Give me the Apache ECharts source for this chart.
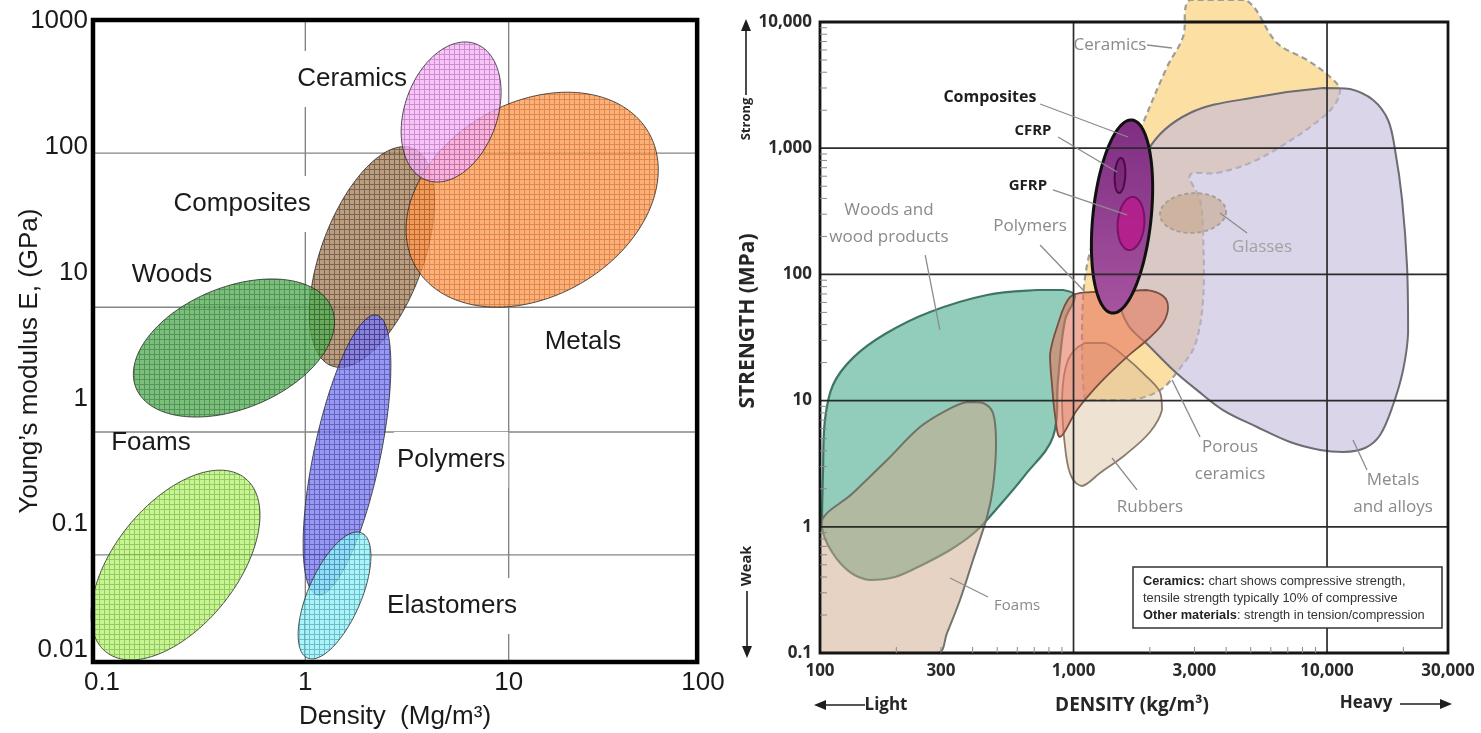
<!DOCTYPE html>
<html>
<head>
<meta charset="utf-8">
<title>Material property charts</title>
<script src="https://cdn.jsdelivr.net/npm/echarts@6.0.0/dist/echarts.min.js"></script>
<style>
  html, body { margin: 0; padding: 0; background: #ffffff; }
  #chart { width: 1481px; height: 733px; }
</style>
</head>
<body>
<div id="chart"></div>
<script>
// ================= Left chart: Young's modulus vs density =================
const modulusFamilies = ['Composites', 'Woods', 'Metals', 'Ceramics', 'Polymers', 'Elastomers', 'Foams'];
// ends of each bubble's long axis, [density Mg/m3, modulus GPa]
const modulusAxisFrom = [[1.35, 1.81], [0.147, 1.21], [3.49, 11.1], [3.96, 54.2], [1.147, 0.0274], [1.025, 0.00863], [0.1045, 0.00966]];
const modulusAxisTo   = [[3.35, 97.7], [1.35, 5.23], [48.8, 130], [6.86, 660], [2.24, 4.59], [1.89, 0.0853], [0.506, 0.232]];
// short axis as a fraction of the long axis
const modulusWidth = [0.44, 0.575, 0.72, 0.64, 0.232, 0.39, 0.55];

const densityTicksMg = [0.1, 1, 10, 100];
const modulusTicks = [0.01, 0.1, 1, 10, 100, 1000];
const modulusGridDensity = [1, 10];
const modulusGridLevels = [89, 5.3, 0.54, 0.057];
const modulusFrameDensity = [0.0903, 84.5];
const modulusFrameLevels = [0.00803, 1018];

const modulusLabels = ['Ceramics', 'Composites', 'Woods', 'Metals', 'Foams', 'Polymers', 'Elastomers'];
const modulusLabelAt = [[1.70, 346], [0.489, 35.1], [0.221, 9.57], [23.2, 2.81], [0.174, 0.442], [5.21, 0.324], [5.27, 0.0224]];
const modulusLabelBoxed = ['Ceramics', 'Composites', 'Polymers', 'Elastomers'];

// ================= Right chart: strength vs density =================
const densityTicksKg = [100, 300, 1000, 3000, 10000, 30000];
const strengthTicks = [0.1, 1, 10, 100, 1000, 10000];
const strengthGridDensity = [1000, 10000];
const strengthGridLevels = [1, 10, 100, 1000];
const strengthFrameDensity = [100, 30000];
const strengthFrameLevels = [0.1, 10000];
const strengthMinorLevels = [0.2, 0.3, 0.4, 0.5, 0.6, 0.7, 0.8, 0.9, 2, 3, 4, 5, 6, 7, 8, 9, 20, 30, 40, 50, 60, 70, 80, 90,
  200, 300, 400, 500, 600, 700, 800, 900, 2000, 3000, 4000, 5000, 6000, 7000, 8000, 9000];
const densityMinorKg = [200, 300, 400, 500, 600, 700, 800, 900, 2000, 3000, 4000, 5000, 6000, 7000, 8000, 9000, 20000];

// region outlines, [density kg/m3, strength MPa]
const ceramicsOutline = [[1110, 10.1], [1080, 36.3], [1141, 130], [1393, 389], [1830, 1394], [2338, 4398], [2704, 7605],
  [2880, 15000], [4748, 15000], [6351, 6818], [8340, 5000], [10280, 3665], [11250, 2892], [10560, 2121], [8569, 1472],
  [6526, 1022], [4970, 763], [3682, 636], [2880, 613], [3155, 389], [3242, 213], [3242, 62.7], [3015, 27.6],
  [2632, 18.1], [2194, 12.1], [1671, 10.1]];
const metalsOutline = [[1970, 968], [2880, 1900], [5300, 2545], [9640, 3000], [12320, 2945], [15190, 2410], [17400, 1673],
  [18550, 967], [19770, 389], [20690, 114], [20880, 34.3], [19950, 17.5], [18210, 9.23], [16190, 5.34], [14120, 4.21],
  [11570, 3.91], [9385, 4.06], [7145, 4.70], [5296, 6.18], [3887, 8.42], [3070, 12.1], [2515, 16.9], [1968, 27.6],
  [1641, 39.7], [1526, 62.7], [1671, 156], [1830, 389]];
const woodsOutline = [[101.8, 0.996], [111.5, 0.631], [131.3, 0.438], [157.5, 0.379], [197.6, 0.400], [248, 0.489],
  [325.7, 0.655], [408.8, 0.910], [512.9, 1.49], [643.8, 2.57], [830, 5.15], [868.7, 14.6], [925.6, 43.5], [1014, 67.4],
  [908.9, 75.2], [717.8, 75.2], [455.9, 68.7], [271.6, 50.4], [180.5, 33.7], [134.9, 21.8], [112.5, 13.3], [104.6, 7.02],
  [102.8, 2.82]];
const foamsOutline = [[100, 1.03], [134.9, 1.85], [183.8, 3.38], [248, 6.18], [316.9, 8.42], [380.1, 9.75], [439.5, 9.57],
  [481.4, 7.97], [494.7, 4.61], [481.4, 2.07], [455.9, 1.20], [401.4, 0.546], [356.6, 0.263], [316.9, 0.144],
  [292.1, 0.1], [100, 0.1]];
const rubbersOutline = [[901, 10.1], [951.3, 21.0], [1110, 28.6], [1332, 28.6], [1597, 22.2], [1915, 15.95], [2194, 11.7],
  [2234, 8.42], [2003, 5.64], [1597, 3.71], [1272, 2.67], [1080, 2.105], [986.5, 2.436], [934, 3.71]];
const polymersOutline = [[968.7, 66.2], [860.9, 38.3], [807.7, 23.0], [822.5, 13.3], [845.3, 7.69], [884.5, 5.15],
  [1032, 8.42], [1272, 13.8], [1626, 22.2], [1950, 30.2], [2255, 41.2], [2360, 55.2], [2255, 67.4], [1950, 75.2],
  [1526, 72.5], [1162, 72.5]];
const strengthRegions = ['Ceramics', 'Metals and alloys', 'Woods and wood products', 'Foams', 'Rubbers', 'Polymers'];
const strengthOutlines = [ceramicsOutline, metalsOutline, woodsOutline, foamsOutline, rubbersOutline, polymersOutline];

// oval families: ends of the long axis, [density kg/m3, strength MPa]
const strengthOvals = ['Glasses', 'Composites', 'CFRP', 'GFRP'];
const strengthOvalFrom = [[2194, 295.6], [1419, 49.4], [1512, 442], [1655, 156]];
const strengthOvalTo   = [[3996, 318], [1701, 1673], [1539, 836], [1717, 411]];
const strengthOvalWidth = [0.6, 0.30, 0.3, 0.5];

const materialNotes = ['Ceramics', 'Composites', 'CFRP', 'GFRP', 'Woods and\nwood products', 'Polymers', 'Glasses',
  'Porous\nceramics', 'Rubbers', 'Metals\nand alloys', 'Foams'];
const materialNoteAt = [[1393, 6574], [468, 2545], [692, 1369], [661, 502], [187, 251], [674, 242], [5540, 165],
  [4144, 3.32], [2003, 1.435], [18210, 1.82], [599, 0.236]];
const materialLeaders = [[[1950, 6574], [2447, 6223]], [[738, 2240], [1641, 1227]], [[869, 1227], [1485, 648]],
  [[830, 467], [1626, 296]], [[260, 142], [297, 36.3]], [[738, 171], [1110, 72.5]], [[3784, 307], [4835, 213]],
  [[3155, 5.15], [2447, 14.6]], [[1780, 1.96], [1419, 3.51]], [[14380, 2.82], [12660, 4.87]], [[460, 0.278], [326, 0.393]]];

// ================= styling =================
const FONT_L = '"Liberation Sans", Arial, sans-serif';
const FONT_R = '"Open Sans", "Liberation Sans", sans-serif';

const hatchColors = [['#a9825c', '#55391f'], ['#55ae55', '#26752c'], ['#f99c55', '#d9651a'], ['#f7b4f7', '#bb6fc0'],
  ['#7b7bf2', '#3838aa'], ['#93f1f7', '#47a9b9'], ['#b7f272', '#78b83c']];

function hatch(base, line) {
  const c = document.createElement('canvas');
  c.width = 5; c.height = 5;
  const g = c.getContext('2d');
  g.fillStyle = base; g.fillRect(0, 0, 5, 5);
  g.fillStyle = line; g.fillRect(4, 0, 1, 5); g.fillRect(0, 4, 5, 1);
  return c;
}
const hatches = hatchColors.map(c => hatch(c[0], c[1]));

const regionStyles = [
  { fill: '#fcdfa2', stroke: '#9d9d9d', lineWidth: 2.2, lineDash: [6, 4] },
  { fill: 'rgba(193,185,217,0.6)', stroke: '#6c6c72', lineWidth: 2 },
  { fill: 'rgba(137,200,180,0.92)', stroke: '#3f7566', lineWidth: 2.2 },
  { fill: 'rgba(207,168,136,0.5)', stroke: '#6f7368', lineWidth: 2 },
  { fill: 'rgba(215,185,150,0.42)', stroke: '#8a7c6a', lineWidth: 1.8 },
  { fill: 'rgba(228,120,95,0.6)', stroke: '#7a4f40', lineWidth: 1.8 }
];
const ovalStyles = [
  { fill: 'rgba(196,164,132,0.55)', stroke: '#a39d96', lineWidth: 1.8, lineDash: [4, 3] },
  { fill: { type: 'linear', x: 0, y: 0, x2: 0, y2: 1, colorStops: [{ offset: 0, color: '#7e2d82' }, { offset: 1, color: '#a6549f' }] },
    stroke: '#111111', lineWidth: 3 },
  { fill: 'rgba(110,25,105,0.45)', stroke: '#4a0b48', lineWidth: 2 },
  { fill: 'rgba(180,30,140,0.92)', stroke: '#7c0f68', lineWidth: 2 }
];

// ================= helpers =================
function ovalOutline(p1, p2, ratio) {
  const cx = (p1[0] + p2[0]) / 2, cy = (p1[1] + p2[1]) / 2;
  const ux = (p2[0] - p1[0]) / 2, uy = (p2[1] - p1[1]) / 2;
  const vx = -uy * ratio, vy = ux * ratio;
  const pts = [];
  for (let k = 0; k < 120; k++) {
    const t = k / 120 * Math.PI * 2;
    pts.push([cx + ux * Math.cos(t) + vx * Math.sin(t), cy + uy * Math.cos(t) + vy * Math.sin(t)]);
  }
  return pts;
}
function bounds(pts) {
  const lo = [Infinity, Infinity], hi = [-Infinity, -Infinity];
  pts.forEach(p => { lo[0] = Math.min(lo[0], p[0]); lo[1] = Math.min(lo[1], p[1]); hi[0] = Math.max(hi[0], p[0]); hi[1] = Math.max(hi[1], p[1]); });
  return [lo, hi];
}
function numText(v) { return String(+(+v).toPrecision(6)); }
function commaText(v) {
  const n = +(+v).toPrecision(6);
  return n >= 1000 ? n.toLocaleString('en-US') : String(n);
}
function onTicks(list, fmt) {
  return v => list.some(t => Math.abs(Math.log10(t) - Math.log10(v)) < 1e-6) ? fmt(v) : '';
}
function segmentSeries(axis, segs, z, style) {
  return {
    type: 'custom', xAxisIndex: axis, yAxisIndex: axis, z: z, silent: true,
    dimensions: ['x1', 'y1', 'x2', 'y2'],
    encode: { x: [0, 2], y: [1, 3] },
    data: segs.map(s => [s[0][0], s[0][1], s[1][0], s[1][1]]),
    renderItem: (params, api) => {
      const a = api.coord([api.value(0), api.value(1)]);
      const b = api.coord([api.value(2), api.value(3)]);
      return { type: 'line', shape: { x1: a[0], y1: a[1], x2: b[0], y2: b[1] }, style: Object.assign({}, style) };
    }
  };
}
function frameSeries(axis, xs, ys, z, style) {
  return {
    type: 'custom', xAxisIndex: axis, yAxisIndex: axis, z: z, silent: true,
    data: [[xs[0], ys[0]]],
    renderItem: (params, api) => {
      const a = api.coord([xs[0], ys[1]]);
      const b = api.coord([xs[1], ys[0]]);
      return { type: 'rect', shape: { x: a[0], y: a[1], width: b[0] - a[0], height: b[1] - a[1] },
        style: Object.assign({ fill: 'none' }, style) };
    }
  };
}
function arrow(x1, y1, x2, y2) {
  const ang = Math.atan2(y2 - y1, x2 - x1), L = 12, W = 5;
  const bx = x2 - L * Math.cos(ang), by = y2 - L * Math.sin(ang);
  return [
    { type: 'line', z: 10, shape: { x1: x1, y1: y1, x2: bx, y2: by }, style: { stroke: '#1e1e1e', lineWidth: 1.6 } },
    { type: 'polygon', z: 10, shape: { points: [[x2, y2], [bx - W * Math.sin(ang), by + W * Math.cos(ang)], [bx + W * Math.sin(ang), by - W * Math.cos(ang)]] },
      style: { fill: '#1e1e1e' } }
  ];
}

// gridline segments
const modulusGridSegs = modulusGridDensity.map(x => [[x, modulusFrameLevels[0]], [x, modulusFrameLevels[1]]])
  .concat(modulusGridLevels.map(y => [[modulusFrameDensity[0], y], [modulusFrameDensity[1], y]]));
const strengthGridSegs = strengthGridDensity.map(x => [[x, strengthFrameLevels[0]], [x, strengthFrameLevels[1]]])
  .concat(strengthGridLevels.map(y => [[strengthFrameDensity[0], y], [strengthFrameDensity[1], y]]));

// last density label sits a little inside the frame corner
const densityLabelMg = onTicks(densityTicksMg, numText);
function densityLabelText(v) {
  const s = densityLabelMg(v);
  return s && +s === densityTicksMg[densityTicksMg.length - 1] ? '{end|' + s + '}' : s;
}

const chart = echarts.init(document.getElementById('chart'));

const titleStyle = { fontWeight: 'bold', fontFamily: FONT_R, fill: '#262626', align: 'center', verticalAlign: 'middle' };

const option = {
  animation: false,
  backgroundColor: '#ffffff',
  grid: [
    { left: 102, top: 21, width: 610, height: 629 },
    { left: 820, top: 22, width: 628, height: 631 }
  ],
  xAxis: [
    { type: 'log', logBase: 10, gridIndex: 0, min: 0.1, max: 100,
      axisLine: { show: false }, axisTick: { show: false }, splitLine: { show: false },
      axisLabel: { fontSize: 26, color: '#1a1a1a', fontFamily: FONT_L, margin: 20, formatter: densityLabelText,
        rich: { end: { fontSize: 26, color: '#1a1a1a', fontFamily: FONT_L, padding: [0, 18, 0, 0] } } } },
    { type: 'log', logBase: 10, gridIndex: 1, min: 100, max: 30000,
      axisLine: { show: false }, axisTick: { show: false }, splitLine: { show: false }, axisLabel: { show: false } }
  ],
  yAxis: [
    { type: 'log', logBase: 10, gridIndex: 0, min: 0.01, max: 1000,
      axisLine: { show: false }, axisTick: { show: false }, splitLine: { show: false },
      axisLabel: { fontSize: 26, color: '#1a1a1a', fontFamily: FONT_L, margin: 14, formatter: onTicks(modulusTicks, numText) } },
    { type: 'log', logBase: 10, gridIndex: 1, min: 0.1, max: 10000,
      axisLine: { show: false }, axisTick: { show: false }, splitLine: { show: false },
      axisLabel: { fontSize: 17, fontWeight: 'bold', color: '#2a2a2a', fontFamily: FONT_R, margin: 8,
        formatter: onTicks(strengthTicks, commaText) } }
  ],
  graphic: { elements: [
    { type: 'text', x: 30, y: 361, rotation: Math.PI / 2, z: 10,
      style: { text: 'Young’s modulus E, (GPa)', fontSize: 26, fontFamily: FONT_L, fill: '#1a1a1a', align: 'center', verticalAlign: 'middle' } },
    { type: 'text', x: 395, y: 717, z: 10,
      style: { text: 'Density  (Mg/m³)', fontSize: 26, fontFamily: FONT_L, fill: '#1a1a1a', align: 'center', verticalAlign: 'middle' } },
    { type: 'text', x: 748, y: 321, rotation: Math.PI / 2, z: 10,
      style: Object.assign({ text: 'STRENGTH (MPa)', fontSize: 21 }, titleStyle) },
    { type: 'text', x: 746, y: 119, rotation: Math.PI / 2, z: 10,
      style: Object.assign({ text: 'Strong', fontSize: 13 }, titleStyle) },
    { type: 'text', x: 747, y: 566, rotation: Math.PI / 2, z: 10,
      style: Object.assign({ text: 'Weak', fontSize: 14.5 }, titleStyle) },
    ...arrow(746, 95, 746, 19),
    ...arrow(747, 591, 747, 658),
    { type: 'text', x: 1132, y: 706, z: 10,
      style: Object.assign({ text: 'DENSITY (kg/m³)', fontSize: 19 }, titleStyle) },
    { type: 'text', x: 886, y: 705, z: 10,
      style: Object.assign({ text: 'Light', fontSize: 17 }, titleStyle) },
    ...arrow(865, 705, 814, 705),
    { type: 'text', x: 1366, y: 703, z: 10,
      style: Object.assign({ text: 'Heavy', fontSize: 17 }, titleStyle) },
    ...arrow(1400, 704, 1452, 704),
    { type: 'rect', z: 10, shape: { x: 1133, y: 567, width: 309, height: 61 },
      style: { fill: '#ffffff', stroke: '#333333', lineWidth: 1.5 } },
    { type: 'text', x: 1143, y: 573, z: 11,
      style: {
        text: '{b|Ceramics:} chart shows compressive strength,\ntensile strength typically 10% of compressive\n{b|Other materials}: strength in tension/compression',
        fontSize: 12.8, fontFamily: FONT_L, fill: '#333333', lineHeight: 17,
        rich: { b: { fontSize: 12.8, fontWeight: 'bold', fontFamily: FONT_L, fill: '#222222', lineHeight: 17 } }
      } }
  ] },
  series: [
    // ----- left chart -----
    segmentSeries(0, modulusGridSegs, 2, { stroke: '#858585', lineWidth: 1.4 }),
    {
      type: 'custom', name: 'Modulus labels', xAxisIndex: 0, yAxisIndex: 0, z: 3, silent: true,
      data: modulusLabels.map((n, i) => ({ name: n, value: modulusLabelAt[i] })),
      renderItem: (params, api) => {
        const i = params.dataIndex;
        const p = api.coord(modulusLabelAt[i]);
        const boxed = modulusLabelBoxed.indexOf(modulusLabels[i]) >= 0;
        return { type: 'text', x: p[0], y: p[1],
          style: { text: modulusLabels[i], fontSize: 26, fontFamily: FONT_L, fill: '#1a1a1a', align: 'center', verticalAlign: 'middle',
            backgroundColor: boxed ? '#ffffff' : 'transparent', padding: boxed ? [15, 3] : 0 } };
      }
    },
    {
      type: 'custom', name: 'Modulus families', xAxisIndex: 0, yAxisIndex: 0, z: 4, silent: true,
      data: modulusFamilies.map((n, i) => ({ name: n, value: modulusAxisFrom[i] })),
      renderItem: (params, api) => {
        const i = params.dataIndex;
        return { type: 'polygon',
          shape: { points: ovalOutline(api.coord(modulusAxisFrom[i]), api.coord(modulusAxisTo[i]), modulusWidth[i]) },
          style: { fill: { image: hatches[i], repeat: 'repeat' }, stroke: '#262626', lineWidth: 1, opacity: 0.78 } };
      }
    },
    frameSeries(0, modulusFrameDensity, modulusFrameLevels, 5, { stroke: '#000000', lineWidth: 4.5 }),

    // ----- right chart -----
    {
      type: 'custom', name: 'Strength regions', xAxisIndex: 1, yAxisIndex: 1, z: 2, silent: true,
      data: strengthRegions.map((n, i) => ({ name: n, value: strengthOutlines[i][0] })),
      renderItem: (params, api) => {
        const i = params.dataIndex;
        const pts = strengthOutlines[i].map(p => api.coord(p));
        return { type: 'polygon',
          shape: { points: pts, smooth: 0.35, smoothConstraint: bounds(pts) },
          style: Object.assign({}, regionStyles[i]) };
      }
    },
    {
      type: 'custom', name: 'Strength ovals', xAxisIndex: 1, yAxisIndex: 1, z: 3, silent: true,
      data: strengthOvals.map((n, i) => ({ name: n, value: strengthOvalFrom[i] })),
      renderItem: (params, api) => {
        const i = params.dataIndex;
        return { type: 'polygon',
          shape: { points: ovalOutline(api.coord(strengthOvalFrom[i]), api.coord(strengthOvalTo[i]), strengthOvalWidth[i]) },
          style: Object.assign({}, ovalStyles[i]) };
      }
    },
    segmentSeries(1, strengthGridSegs, 4, { stroke: '#2b2b2b', lineWidth: 1.7 }),
    frameSeries(1, strengthFrameDensity, strengthFrameLevels, 4, { stroke: '#151515', lineWidth: 2.8 }),
    {
      type: 'custom', name: 'Strength minor ticks', xAxisIndex: 1, yAxisIndex: 1, z: 4, silent: true,
      data: strengthMinorLevels.map(v => [strengthFrameDensity[0], v]).concat(densityMinorKg.map(v => [v, strengthFrameLevels[0]])),
      renderItem: (params, api) => {
        const p = api.coord([api.value(0), api.value(1)]);
        const onLeft = params.dataIndex < strengthMinorLevels.length;
        return { type: 'line',
          shape: onLeft ? { x1: p[0], y1: p[1], x2: p[0] + 7, y2: p[1] } : { x1: p[0], y1: p[1], x2: p[0], y2: p[1] - 6 },
          style: { stroke: '#8a8a8a', lineWidth: 1 } };
      }
    },
    segmentSeries(1, materialLeaders, 5, { stroke: '#8c8c8c', lineWidth: 1.3 }),
    {
      type: 'custom', name: 'Material notes', xAxisIndex: 1, yAxisIndex: 1, z: 6, silent: true,
      data: materialNotes.map((n, i) => ({ name: n, value: materialNoteAt[i] })),
      renderItem: (params, api) => {
        const i = params.dataIndex;
        const p = api.coord(materialNoteAt[i]);
        const name = materialNotes[i];
        const bold = name === 'Composites' || name === 'CFRP' || name === 'GFRP';
        let size = 17;
        if (name === 'Composites') size = 16;
        else if (bold) size = 15;
        else if (name === 'Foams') size = 15;
        return { type: 'text', x: p[0], y: p[1],
          style: { text: name, fontSize: size, fontWeight: bold ? 'bold' : 'normal',
            fontFamily: FONT_R, fill: bold ? '#1e1e1e' : (name === 'Glasses' ? '#a2a2a2' : '#8a8a8a'),
            align: 'center', verticalAlign: 'middle', lineHeight: 27 } };
      }
    },
    {
      type: 'custom', name: 'Density tick labels', xAxisIndex: 1, yAxisIndex: 1, z: 6, silent: true,
      data: densityTicksKg.map(v => [v, strengthFrameLevels[0]]),
      renderItem: (params, api) => {
        const v = api.value(0);
        const p = api.coord([v, api.value(1)]);
        return { type: 'text', x: p[0], y: p[1] + 18,
          style: { text: commaText(v), fontSize: 17, fontWeight: 'bold', fontFamily: FONT_R, fill: '#2a2a2a', align: 'center', verticalAlign: 'middle' } };
      }
    }
  ]
};

chart.setOption(option);
</script>
</body>
</html>
